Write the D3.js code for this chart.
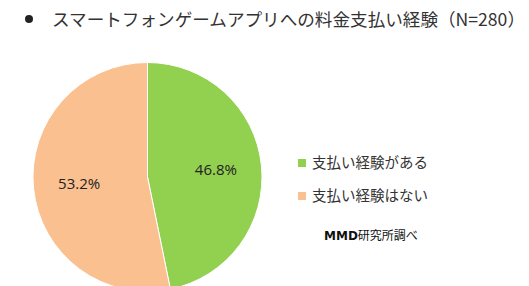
<!DOCTYPE html>
<html>
<head>
<meta charset="utf-8">
<script src="https://cdn.jsdelivr.net/npm/d3@7"></script>
<style>
  html, body { margin: 0; padding: 0; background: #fff; }
  svg { display: block; font-family: "Noto Sans CJK JP", "Noto Sans", sans-serif; }
</style>
</head>
<body>
<svg id="chart" width="529" height="286"></svg>
<script>
// data
const categories = ['支払い経験がある', '支払い経験はない'];
const shares     = [46.8, 53.2];
const colors     = ['#92D050', '#FAC090'];
const titleText  = 'スマートフォンゲームアプリへの料金支払い経験（N=280）';

const svg = d3.select('#chart');

// title
svg.append('circle').attr('cx', 29).attr('cy', 19).attr('r', 4).attr('fill', '#222');
svg.append('text')
  .attr('x', 52).attr('y', 26)
  .attr('font-size', 17.6)
  .attr('fill', '#333')
  .text(titleText);

// pie
const radius = 114.5;
const cx = 147.5, cy = 177;

const pie = d3.pie().sort(null).value(d => d);
const arc = d3.arc().innerRadius(0).outerRadius(radius);
const labelArc = d3.arc().innerRadius(radius * 0.6).outerRadius(radius * 0.6);

const g = svg.append('g').attr('transform', `translate(${cx},${cy})`);
const slices = pie(shares);

g.selectAll('path')
  .data(slices)
  .enter().append('path')
  .attr('d', arc)
  .attr('fill', (d, i) => colors[i])
  .attr('stroke', '#fff')
  .attr('stroke-width', 1);

g.selectAll('text')
  .data(slices)
  .enter().append('text')
  .attr('transform', d => `translate(${labelArc.centroid(d)})`)
  .attr('text-anchor', 'middle')
  .attr('dy', '0.35em')
  .attr('font-family', 'Open Sans, sans-serif')
  .attr('font-size', 15)
  .attr('fill', '#222')
  .text(d => d.data.toFixed(1) + '%');

// legend
const lg = svg.append('g').attr('transform', 'translate(298,159)');
categories.forEach((c, i) => {
  const row = lg.append('g').attr('transform', `translate(0,${i * 33})`);
  row.append('rect').attr('width', 8).attr('height', 8).attr('fill', colors[i]);
  row.append('text')
    .attr('x', 14).attr('y', 8.5)
    .attr('font-size', 14.5)
    .attr('fill', '#333')
    .text(c);
});

// source note
const src = svg.append('text')
  .attr('x', 324).attr('y', 240)
  .attr('font-size', 12)
  .attr('fill', '#111');
src.append('tspan').attr('font-weight', 'bold').attr('font-family', 'DejaVu Sans, sans-serif').text('MMD');
src.append('tspan').text('研究所調べ');
</script>
</body>
</html>
